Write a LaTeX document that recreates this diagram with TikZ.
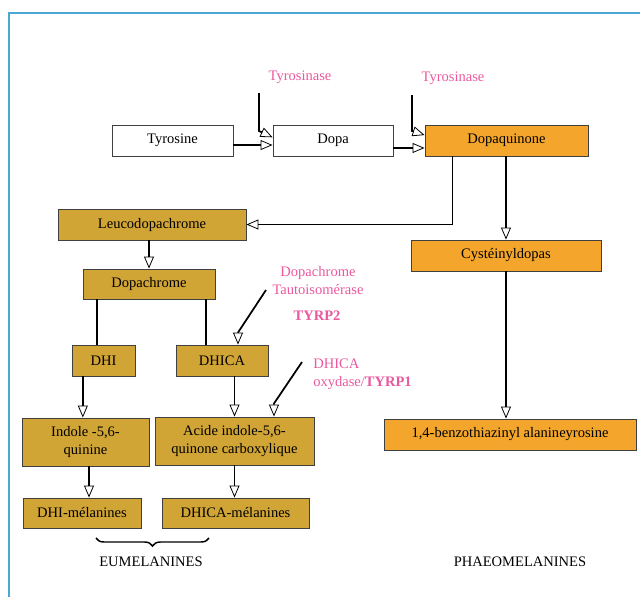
\documentclass[tikz,border=0pt]{standalone}
\usepackage{fontspec}
\setmainfont{Liberation Serif}
\usepackage{xcolor}
\usepackage{tikz}
\usetikzlibrary{arrows.meta,calc,decorations.pathreplacing}
\definecolor{cOrange}{RGB}{243,166,43}
\definecolor{cGold}{RGB}{208,164,53}
\definecolor{cEnz}{RGB}{234,88,158}
\definecolor{cFrame}{RGB}{74,168,210}
\tikzset{
  box/.style={draw=black!75, line width=0.7pt, align=center,
              minimum height=23.25pt, inner sep=1pt,
              font=\fontsize{10.9}{13}\selectfont},
  wbox/.style={box, fill=white},
  obox/.style={box, fill=cOrange},
  gbox/.style={box, fill=cGold},
  wd/.style={minimum width=#1*0.75pt},
  tall/.style={minimum height=36pt},
  arr/.style={-{Triangle[open, length=9pt, width=7.5pt, line width=0.6pt]}, line width=1.3pt},
  ln/.style={line width=1.3pt},
  enz/.style={text=cEnz, align=center, inner sep=0pt, font=\fontsize{10.9}{13.5}\selectfont},
  lbl/.style={inner sep=0pt, font=\fontsize{10.9}{13}\selectfont},
}

\begin{document}
\begin{tikzpicture}[x=0.75pt, y=-0.75pt]
  \useasboundingbox (0,0) rectangle (640,597);
  \draw[cFrame, line width=1.5pt] (9,597) -- (9,13) -- (640,13);

  % ---- top row ----
  \node[wbox, wd=121] (tyr) at (172.5,140.5) {Tyrosine};
  \node[wbox, wd=120] (dopa) at (333,140.5) {Dopa};
  \node[obox, wd=163] (dq) at (506.5,140.5) {Dopaquinone};
  \node[enz] (tyrase1) at (300,77) {Tyrosinase};
  \node[enz] (tyrase2) at (453,78) {Tyrosinase};
  \coordinate (e1) at (259,93);
  \coordinate (e2) at (412,95);
  \draw[arr] (e1) -- ++(0,38) -- ($(dopa.north west)!0.4!(dopa.south west)$);
  \draw[arr] (e2) -- ++(0,36) -- ($(dq.north west)!0.33!(dq.south west)$);
  \draw[arr] ([yshift=-3.4pt]tyr.east) -- ([yshift=-3.4pt]dopa.west);
  \draw[arr] ([yshift=-5.6pt]dopa.east) -- ([yshift=-5.6pt]dq.west);

  % ---- eumelanin branch ----
  \node[gbox, wd=188] (leuco) at (152,224.5) {Leucodopachrome};
  \node[gbox, wd=132, minimum height=22.5pt] (dopach) at (149,284) {Dopachrome};
  \node[gbox, wd=63] (dhi) at (103.5,360.5) {DHI};
  \node[gbox, wd=92] (dhica) at (222,360.5) {DHICA};
  \node[gbox, wd=127, tall] (indq) at (85.5,442) {Indole -5,6-\\quinine};
  \node[gbox, wd=159, tall] (acq) at (234.5,441) {Acide indole-5,6-\\quinone carboxylique};
  \node[gbox, wd=118, minimum height=22.5pt] (dhimel) at (82,513) {DHI-mélanines};
  \node[gbox, wd=147, minimum height=22.5pt] (dhicamel) at (235.5,513) {DHICA-mélanines};

  \draw[arr] ([xshift=21pt]dq.south west) |- (leuco.east);
  \draw[arr] (leuco.south -| dopach.north) -- (dopach.north);
  \coordinate (pdhi) at ([xshift=-4.9pt]dhi.north);
  \coordinate (pdhica) at ([xshift=-12pt]dhica.north);
  \draw[ln] (dopach.south -| pdhi) -- (pdhi);
  \draw[ln] (dopach.south -| pdhica) -- (pdhica);

  \node[enz] (dct) at (318,281) {Dopachrome\\Tautoisomérase};
  \node[enz] (tyrp2) at (317,316) {\textbf{TYRP2}};
  \coordinate (e3) at (266,290);
  \coordinate (in3) at ([xshift=12pt]dhica.north);
  \draw[arr] (e3) -- ([yshift=9pt]in3) -- (in3);

  \coordinate (pindq) at ([xshift=-2pt]indq.north);
  \draw[arr] (dhi.south -| pindq) -- (pindq);
  \draw[arr] (dhica.south -| acq.north) -- (acq.north);

  \node[enz, anchor=west, align=left] (dhicaox) at (313,374) {DHICA\\oxydase/\textbf{TYRP1}};
  \coordinate (e4) at (302,362);
  \coordinate (in4) at ([xshift=29.6pt]acq.north);
  \draw[arr] (e4) -- ([yshift=9.75pt]in4) -- (in4);

  \coordinate (pdhimel) at ([xshift=5.25pt]dhimel.north);
  \draw[arr] (indq.south -| pdhimel) -- (pdhimel);
  \draw[arr] (acq.south) -- (acq.south |- dhicamel.north);

  % ---- phaeomelanin branch ----
  \node[obox, wd=190] (cyst) at (506,255.5) {Cystéinyldopas};
  \node[obox, wd=252] (benzo) at (510,434.5) {1,4-benzothiazinyl alanineyrosine};
  \draw[arr] (dq.south -| cyst.north) -- (cyst.north);
  \draw[arr] (cyst.south) -- (cyst.south |- benzo.north);

  % ---- classes ----
  \coordinate (brL) at (96,538);
  \coordinate (brR) at (209,538);
  \draw[line width=1.1pt, decorate, decoration={brace, mirror, amplitude=6pt}] (brL) -- (brR);
  \node[lbl] (eu) at (151,562) {EUMELANINES};
  \node[lbl] (phaeo) at (520,562) {PHAEOMELANINES};
\end{tikzpicture}
\end{document}
